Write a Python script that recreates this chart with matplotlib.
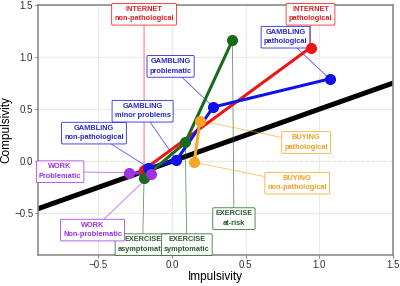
import matplotlib
matplotlib.use("Agg")
import matplotlib.pyplot as plt

plt.rcParams['font.family'] = ['Liberation Sans', 'DejaVu Sans']

# datos (impulsividad, compulsividad)
internet_x = [-0.19, 0.94]
internet_y = [-0.08, 1.09]
internet_labels = ["INTERNET\nnon-pathological", "INTERNET\npathological"]
internet_lab_x = [-0.19, 0.94]
internet_lab_y = [1.41, 1.41]

gambling_x = [-0.16, 0.03, 0.28, 1.07]
gambling_y = [-0.06, 0.01, 0.52, 0.79]
gambling_labels = ["GAMBLING\nnon-pathological", "GAMBLING\nminor problems",
                   "GAMBLING\nproblematic", "GAMBLING\npathological"]
gambling_lab_x = [-0.53, -0.20, -0.01, 0.77]
gambling_lab_y = [0.27, 0.48, 0.91, 1.19]

exercise_x = [-0.19, 0.09, 0.41]
exercise_y = [-0.16, 0.18, 1.16]
exercise_labels = ["EXERCISE\nasymptomatic", "EXERCISE\nsymptomatic", "EXERCISE\nat-risk"]
exercise_lab_x = [-0.20, 0.10, 0.42]
exercise_lab_y = [-0.80, -0.80, -0.55]

work_x = [-0.29, -0.14]
work_y = [-0.11, -0.12]
work_labels = ["WORK\nProblematic", "WORK\nNon-problematic"]
work_lab_x = [-0.76, -0.54]
work_lab_y = [-0.10, -0.66]

buying_x = [0.15, 0.19]
buying_y = [-0.01, 0.39]
buying_labels = ["BUYING\nnon-pathological", "BUYING\npathological"]
buying_lab_x = [0.85, 0.91]
buying_lab_y = [-0.21, 0.18]

ref_slope = 0.5

grupos = [
    (internet_x, internet_y, internet_labels, internet_lab_x, internet_lab_y, "#f01414", "#e02020"),
    (gambling_x, gambling_y, gambling_labels, gambling_lab_x, gambling_lab_y, "#1010e8", "#2828c8"),
    (exercise_x, exercise_y, exercise_labels, exercise_lab_x, exercise_lab_y, "#1b6a1b", "#2a5a2a"),
    (work_x, work_y, work_labels, work_lab_x, work_lab_y, "#a030e8", "#9a30e0"),
    (buying_x, buying_y, buying_labels, buying_lab_x, buying_lab_y, "#f5a623", "#f0a020"),
]

fig = plt.figure(figsize=(4, 2.86), dpi=100)
ax = fig.add_axes([0.095, 0.108, 0.8875, 0.875])
ax.set_xlim(-0.91, 1.5)
ax.set_ylim(-0.9, 1.5)
ax.set_xticks([-0.5, 0.0, 0.5, 1.0, 1.5])
ax.set_yticks([-0.5, 0.0, 0.5, 1.0, 1.5])
ax.grid(True, color="#ebebeb", lw=0.8, zorder=0)
for s in ax.spines.values():
    s.set_color("#8c8c8c")
    s.set_linewidth(1.2)
ax.tick_params(labelsize=7, length=2, pad=1.5, color="#8c8c8c", labelcolor="#333333")

ax.axvline(0, color="#808080", ls=(0, (3, 2)), lw=0.8, zorder=1)
ax.axhline(0, color="#808080", ls=(0, (3, 2)), lw=0.8, zorder=1)
ax.axline((0, 0), slope=ref_slope, color="black", lw=3.6, zorder=2)

for xs, ys, labs, lx, ly, col, tcol in grupos:
    for px, py, t, tx, ty in zip(xs, ys, labs, lx, ly):
        ax.annotate(t, xy=(px, py), xytext=(tx, ty), ha="center", va="center",
                    fontsize=5.3, fontweight="bold", color=tcol, linespacing=1.5,
                    bbox=dict(boxstyle="round,pad=0.35,rounding_size=0.15",
                              fc="white", ec=col, lw=0.6, alpha=0.9),
                    arrowprops=dict(arrowstyle="-", color=col, lw=0.6, alpha=0.7,
                                    shrinkA=0, shrinkB=0),
                    zorder=3)
    ax.plot(xs, ys, color=col, lw=2.2, zorder=4, solid_capstyle="round")
    ax.plot(xs, ys, "o", color=col, ms=7, zorder=5)

ax.set_xlabel("Impulsivity", fontsize=8.5, labelpad=1)
ax.set_ylabel("Compulsivity", fontsize=8.5, labelpad=1)

fig.savefig("out.png", dpi=100)
